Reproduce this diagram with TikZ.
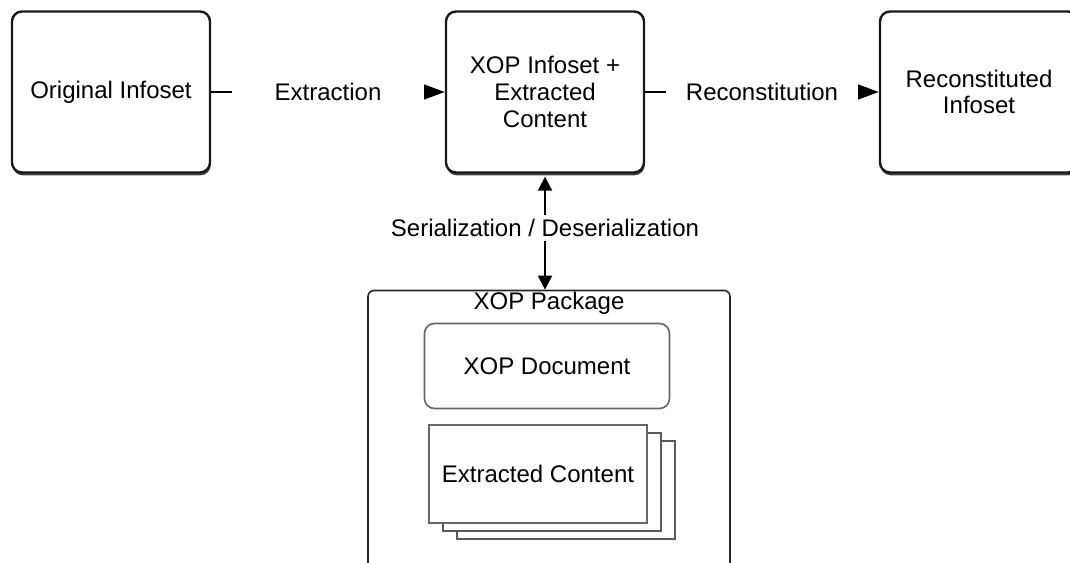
\documentclass[tikz,border=0pt]{standalone}
\usepackage{fontspec}
\setmainfont{Liberation Sans}
\usetikzlibrary{positioning, arrows.meta, shadows}

\begin{document}
\begin{tikzpicture}[
    node distance=116.8pt,
    font=\fontsize{12}{13.4}\selectfont,
    infoset/.style={draw=black!90, line width=1.2pt, fill=white, rounded corners=5pt, minimum width=99pt, minimum height=80.5pt, align=center,
        drop shadow={shadow xshift=0.3pt, shadow yshift=-1.4pt, fill=black!75, opacity=1}},
    flow/.style={-{Triangle[length=12pt, width=8.5pt]}, line width=1.2pt},
    biflow/.style={{Triangle[length=7pt, width=7pt]}-{Triangle[length=7pt, width=7pt]}, line width=1pt},
    lbl/.style={fill=white, inner xsep=1pt, inner ysep=2pt, minimum width=#1},
    part/.style={draw=black!60, line width=0.8pt, fill=white, align=center}
]

\useasboundingbox (0,0) rectangle (535pt,281pt);

\node[infoset] (orig) at (55.5pt,235pt) {Original Infoset};
\node[infoset, right=of orig] (xopinfo) {XOP Infoset +\\ Extracted\\ Content};
\node[infoset, right=of xopinfo] (recon) {Reconstituted\\ Infoset};

\node[draw=black!85, line width=0.8pt, rounded corners=3pt, minimum width=181pt, minimum height=145pt, below=58pt of xopinfo, xshift=2pt] (pkg) {};
\node[anchor=north, inner sep=1pt] (pkgname) at (pkg.north) {XOP Package};
\node[part, rounded corners=5pt, minimum width=122.5pt, minimum height=42.5pt, below=16.5pt of pkg.north, xshift=-1pt] (xopdoc) {XOP Document};
\node[part, minimum width=109pt, minimum height=49pt, below=7.5pt of xopdoc, xshift=-4.5pt,
    copy shadow={shadow xshift=14pt, shadow yshift=-8pt, draw=black!65, fill=white, line width=0.8pt},
    copy shadow={shadow xshift=7pt, shadow yshift=-4pt, draw=black!65, fill=white, line width=0.8pt}] (content) {Extracted Content};

\draw[flow] (orig) -- node[lbl=96pt] {Extraction} (xopinfo);
\draw[flow] (xopinfo) -- node[lbl=96pt] {Reconstitution} (recon);
\draw[biflow, shorten <=1.5pt] (xopinfo.south) -- node[lbl=0pt, yshift=2pt] (serial) {Serialization / Deserialization} (xopinfo.south |- pkg.north);

\end{tikzpicture}
\end{document}
